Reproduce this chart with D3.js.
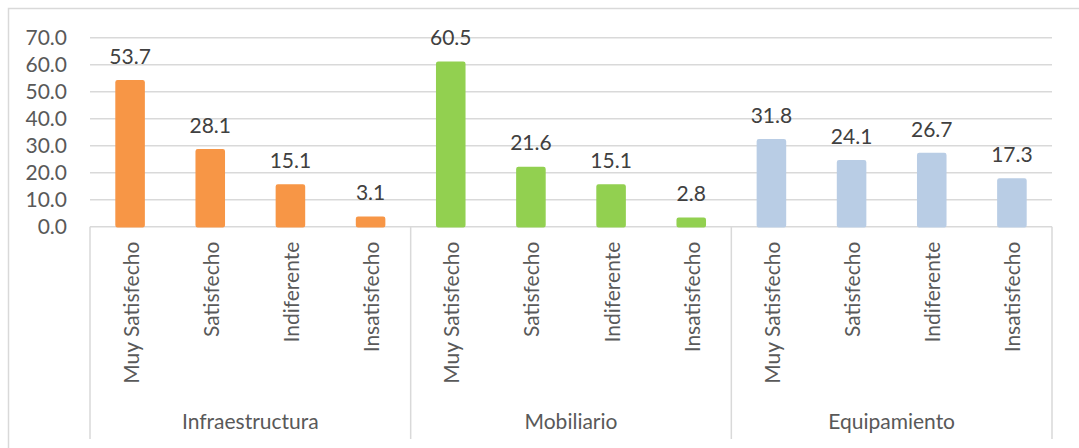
<!DOCTYPE html>
<html>
<head>
<meta charset="utf-8">
<script src="https://cdn.jsdelivr.net/npm/d3@7"></script>
<style>
  body { margin: 0; background: #fff; }
  svg { display: block; font-family: Lato, "Open Sans", sans-serif; }
</style>
</head>
<body>
<svg id="chart" width="1079" height="448"></svg>
<script>
var groups = ["Infraestructura", "Mobiliario", "Equipamiento"];
var categories = ["Muy Satisfecho", "Satisfecho", "Indiferente", "Insatisfecho"];
var infraestructura = [53.7, 28.1, 15.1, 3.1];
var mobiliario = [60.5, 21.6, 15.1, 2.8];
var equipamiento = [31.8, 24.1, 26.7, 17.3];
var yTicks = [0, 10, 20, 30, 40, 50, 60, 70];
var colors = ["#F79646", "#92D050", "#B9CDE5"];

var series = [infraestructura, mobiliario, equipamiento];
var svg = d3.select("#chart");

var plotLeft = 90, plotRight = 1052, plotTop = 37.7, plotBottom = 226.7;
var fontSize = 21;

// outer frame (cut by the picture on the right and bottom)
svg.append("rect")
  .attr("x", 8.5).attr("y", 8.5)
  .attr("width", 1090).attr("height", 460)
  .attr("fill", "none").attr("stroke", "#d9d9d9").attr("stroke-width", 1.5);

var y = d3.scaleLinear().domain([0, 70]).range([plotBottom, plotTop]);
var xGroup = d3.scaleBand().domain(groups).range([plotLeft, plotRight]);
var xCat = d3.scaleBand().domain(categories).range([0, xGroup.bandwidth()])
  .paddingInner(0.65).paddingOuter(0.325);

// gridlines
svg.append("g").selectAll("line").data(yTicks).join("line")
  .attr("x1", plotLeft).attr("x2", plotRight)
  .attr("y1", d => y(d)).attr("y2", d => y(d))
  .attr("stroke", "#d9d9d9").attr("stroke-width", 1.5);

// y tick labels
svg.append("g").selectAll("text").data(yTicks).join("text")
  .attr("x", 67).attr("y", d => y(d))
  .attr("dy", "0.36em")
  .attr("text-anchor", "end")
  .attr("font-size", fontSize)
  .attr("fill", "#595959")
  .text(d => d.toFixed(1));

// separators below axis
var seps = groups.map(g => xGroup(g)).concat([plotRight]);
svg.append("g").selectAll("line").data(seps).join("line")
  .attr("x1", d => d).attr("x2", d => d)
  .attr("y1", plotBottom).attr("y2", 439)
  .attr("stroke", "#d9d9d9").attr("stroke-width", 1.5);

groups.forEach((g, gi) => {
  var gx = xGroup(g);
  var grp = svg.append("g").attr("transform", `translate(${gx},0)`);
  var vals = series[gi];

  grp.selectAll("rect").data(vals).join("rect")
    .attr("x", (d, i) => xCat(categories[i]))
    .attr("y", d => y(d) - 1)
    .attr("width", xCat.bandwidth())
    .attr("height", d => plotBottom - y(d) + 1)
    .attr("rx", 1.5)
    .attr("fill", colors[gi])
    .attr("stroke", colors[gi])
    .attr("stroke-width", 1.5);

  grp.selectAll("text.val").data(vals).join("text")
    .attr("class", "val")
    .attr("x", (d, i) => xCat(categories[i]) + xCat.bandwidth() / 2)
    .attr("y", d => y(d) - 18)
    .attr("text-anchor", "middle")
    .attr("font-size", fontSize)
    .attr("fill", "#404040")
    .text(d => d.toFixed(1));

  grp.selectAll("text.cat").data(categories).join("text")
    .attr("class", "cat")
    .attr("transform", d => `translate(${xCat(d) + xCat.bandwidth() / 2 + 1},${plotBottom + 15}) rotate(-90)`)
    .attr("dy", "0.36em")
    .attr("text-anchor", "end")
    .attr("font-size", fontSize)
    .attr("fill", "#595959")
    .text(d => d);

  grp.append("text")
    .attr("x", xGroup.bandwidth() / 2)
    .attr("y", 429)
    .attr("text-anchor", "middle")
    .attr("font-size", fontSize)
    .attr("fill", "#595959")
    .text(g);
});
</script>
</body>
</html>
